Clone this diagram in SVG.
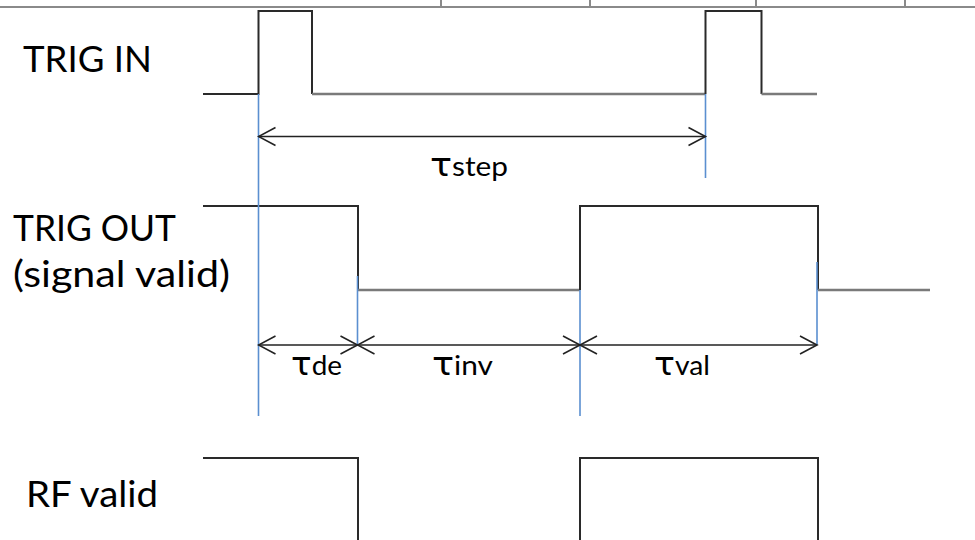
<svg xmlns="http://www.w3.org/2000/svg" width="975" height="540" viewBox="0 0 975 540">
<style>
.tbl{stroke:#8a8a8a;stroke-width:2;fill:none}
.hi{stroke:#2a2a2a;stroke-width:2;fill:none}
.lo{stroke:#7a7a7a;stroke-width:2.6;fill:none}
.blue{stroke:#5b8fd0;stroke-width:1.6;fill:none}
.arr{stroke:#222;stroke-width:1.6;fill:none;marker-start:url(#chev);marker-end:url(#chev)}
.lbl{font-family:Lato,"Open Sans","DejaVu Sans",sans-serif;font-size:36px;fill:#000}
.tau{font-family:Lato,"Open Sans","DejaVu Sans",sans-serif;font-size:26px;fill:#000}
.g{font-family:"DejaVu Sans","Open Sans",sans-serif;font-size:32px}
</style>
<defs>
<marker id="chev" markerUnits="userSpaceOnUse" viewBox="-19 -11 21 22" refX="0" refY="0" markerWidth="21" markerHeight="22" orient="auto-start-reverse">
<path d="M-17,-9 L0,0 L-17,9" fill="none" stroke="#222" stroke-width="1.6"/>
</marker>
</defs>
<g id="table">
<path class="tbl" d="M0,7 H975 M441,0 V7 M590,0 V7 M756,0 V7 M905,0 V7"/>
</g>
<g id="trig-in">
<text class="lbl" x="23" y="72" textLength="129" lengthAdjust="spacingAndGlyphs">TRIG IN</text>
<path class="hi" d="M203,94 H258.5 V11 H312 V94"/>
<path class="lo" d="M312,94 H705.5"/>
<path class="hi" d="M705.5,94 V11 H761.5 V94"/>
<path class="lo" d="M761.5,94 H817"/>
</g>
<g id="trig-out">
<text class="lbl" x="13" y="241" textLength="163" lengthAdjust="spacingAndGlyphs">TRIG OUT</text>
<text class="lbl" x="13" y="287" textLength="217" lengthAdjust="spacingAndGlyphs">(signal valid)</text>
<path class="hi" d="M203,206 H358 V290"/>
<path class="lo" d="M358,290 H580"/>
<path class="hi" d="M580,290 V206 H818 V290"/>
<path class="lo" d="M818,290 H930"/>
</g>
<g id="rf-valid">
<text class="lbl" x="26" y="507" textLength="132" lengthAdjust="spacingAndGlyphs">RF valid</text>
<path class="hi" d="M203,458 H358 V540"/>
<path class="hi" d="M580,540 V458 H818 V540"/>
</g>
<g id="connectors">
<path class="blue" d="M258.5,94 V416 M705.5,94 V178 M357.5,276 V345 M580,290 V416 M817,262 V345"/>
<path class="arr" d="M258.5,136.5 H705.5"/>
<path class="arr" d="M258.5,345 H357.5"/>
<path class="arr" d="M357.5,345 H580"/>
<path class="arr" d="M580,345 H817"/>
</g>
<g id="labels">
<text class="tau" x="430" y="176" textLength="78" lengthAdjust="spacingAndGlyphs"><tspan class="g">τ</tspan>step</text>
<text class="tau" x="291" y="375" textLength="51" lengthAdjust="spacingAndGlyphs"><tspan class="g">τ</tspan>de</text>
<text class="tau" x="432" y="375" textLength="61" lengthAdjust="spacingAndGlyphs"><tspan class="g">τ</tspan>inv</text>
<text class="tau" x="654" y="375" textLength="56" lengthAdjust="spacingAndGlyphs"><tspan class="g">τ</tspan>val</text>
</g>
</svg>
